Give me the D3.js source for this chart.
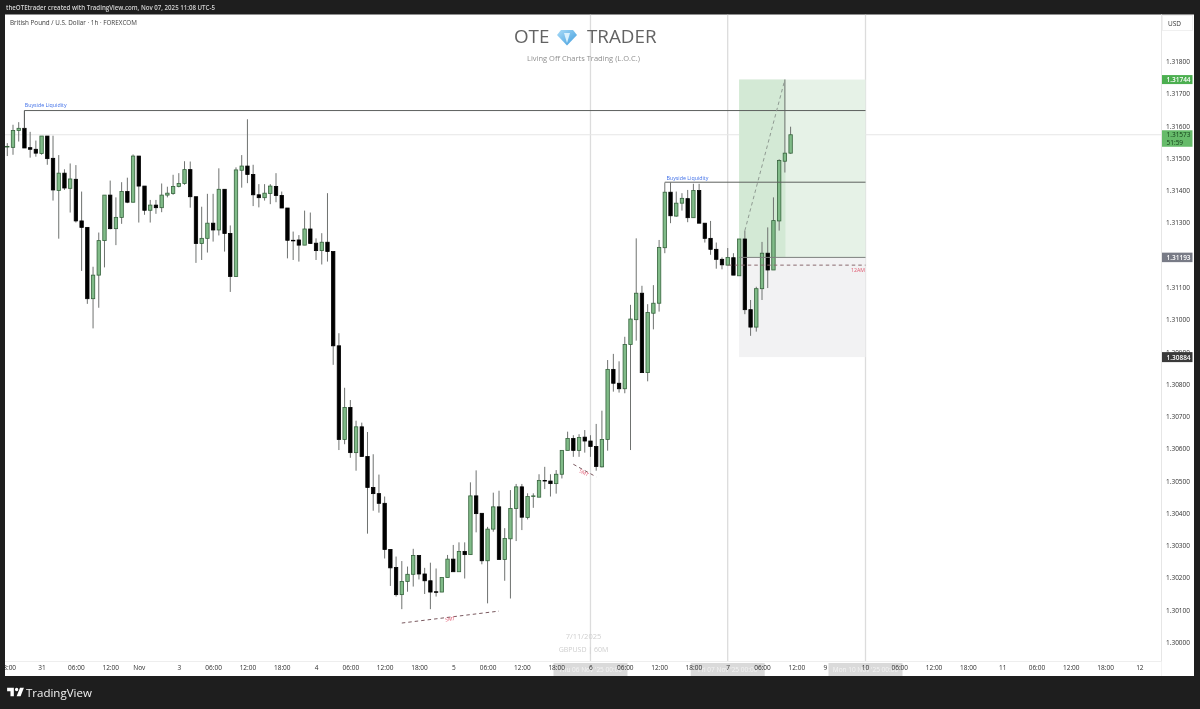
<!DOCTYPE html>
<html><head><meta charset="utf-8">
<script src="https://cdn.jsdelivr.net/npm/d3@7/dist/d3.min.js"></script>
<style>html,body{margin:0;padding:0;background:#1e1e1e;overflow:hidden}svg{display:block;filter:blur(.3px)}text{font-family:"Open Sans","Noto Sans",sans-serif}</style>
</head><body><div id="chart"></div>
<script>
const firstIndex=-1;
const openP=[1.31535,1.31534,1.31586,1.31593,1.31533,1.31528,1.31515,1.31569,1.31500,1.31400,1.31454,1.31407,1.31435,1.31306,1.31286,1.31065,1.31138,1.31245,1.31386,1.31282,1.31317,1.31397,1.31364,1.31507,1.31414,1.31339,1.31355,1.31347,1.31386,1.31391,1.31413,1.31422,1.31465,1.31381,1.31236,1.31252,1.31299,1.31278,1.31404,1.31267,1.31134,1.31463,1.31476,1.31450,1.31387,1.31378,1.31391,1.31413,1.31385,1.31346,1.31246,1.31247,1.31231,1.31281,1.31237,1.31214,1.31240,1.31211,1.30919,1.30629,1.30728,1.30588,1.30668,1.30576,1.30480,1.30461,1.30431,1.30288,1.30232,1.30148,1.30189,1.30211,1.30269,1.30212,1.30191,1.30157,1.30156,1.30201,1.30258,1.30219,1.30282,1.30272,1.30454,1.30400,1.30253,1.30351,1.30420,1.30257,1.30321,1.30415,1.30482,1.30387,1.30452,1.30450,1.30502,1.30500,1.30492,1.30521,1.30595,1.30632,1.30595,1.30636,1.30624,1.30607,1.30544,1.30629,1.30846,1.30803,1.30786,1.30923,1.31000,1.31082,1.30836,1.31020,1.31051,1.31223,1.31395,1.31321,1.31361,1.31375,1.31316,1.31400,1.31299,1.31252,1.31218,1.31187,1.31169,1.31192,1.31136,1.31250,1.31031,1.30977,1.31096,1.31206,1.31154,1.31306,1.31491,1.31516];
const highP=[1.31547,1.31604,1.31612,1.31648,1.31582,1.31555,1.31569,1.31569,1.31570,1.31510,1.31466,1.31484,1.31479,1.31397,1.31286,1.31164,1.31270,1.31386,1.31431,1.31379,1.31426,1.31440,1.31512,1.31507,1.31414,1.31371,1.31371,1.31422,1.31412,1.31449,1.31454,1.31491,1.31490,1.31381,1.31350,1.31390,1.31390,1.31469,1.31404,1.31292,1.31472,1.31510,1.31621,1.31480,1.31420,1.31420,1.31420,1.31454,1.31397,1.31346,1.31273,1.31262,1.31338,1.31332,1.31252,1.31268,1.31392,1.31211,1.30958,1.30789,1.30751,1.30687,1.30681,1.30652,1.30583,1.30520,1.30452,1.30288,1.30266,1.30252,1.30235,1.30290,1.30271,1.30231,1.30247,1.30229,1.30201,1.30271,1.30302,1.30310,1.30310,1.30496,1.30533,1.30400,1.30358,1.30464,1.30470,1.30354,1.30472,1.30491,1.30491,1.30462,1.30462,1.30521,1.30544,1.30521,1.30534,1.30595,1.30653,1.30642,1.30645,1.30658,1.30642,1.30677,1.30718,1.30875,1.30894,1.30871,1.30947,1.31046,1.31252,1.31105,1.31048,1.31107,1.31247,1.31425,1.31425,1.31397,1.31392,1.31402,1.31421,1.31421,1.31299,1.31306,1.31239,1.31193,1.31222,1.31206,1.31250,1.31276,1.31061,1.31102,1.31241,1.31286,1.31379,1.31497,1.31744,1.31598];
const lowP=[1.31507,1.31511,1.31552,1.31532,1.31502,1.31505,1.31511,1.31480,1.31369,1.31251,1.31402,1.31332,1.31301,1.31151,1.31049,1.30973,1.31037,1.31162,1.31280,1.31231,1.31297,1.31361,1.31363,1.31301,1.31325,1.31301,1.31328,1.31333,1.31379,1.31387,1.31410,1.31418,1.31347,1.31176,1.31185,1.31208,1.31242,1.31261,1.31211,1.31086,1.31134,1.31409,1.31423,1.31352,1.31348,1.31369,1.31358,1.31364,1.31346,1.31190,1.31185,1.31180,1.31231,1.31236,1.31185,1.31171,1.31180,1.30860,1.30596,1.30614,1.30572,1.30532,1.30575,1.30337,1.30408,1.30402,1.30260,1.30175,1.30142,1.30103,1.30157,1.30173,1.30195,1.30150,1.30103,1.30142,1.30156,1.30201,1.30219,1.30219,1.30198,1.30272,1.30341,1.30242,1.30121,1.30343,1.30257,1.30191,1.30136,1.30314,1.30348,1.30381,1.30417,1.30450,1.30475,1.30452,1.30461,1.30508,1.30595,1.30575,1.30575,1.30588,1.30575,1.30532,1.30542,1.30594,1.30777,1.30774,1.30772,1.30596,1.30935,1.30836,1.30809,1.30970,1.31025,1.31206,1.31299,1.31319,1.31338,1.31302,1.31316,1.31299,1.31239,1.31201,1.31158,1.31156,1.31169,1.31138,1.31136,1.31017,1.30950,1.30963,1.31061,1.31098,1.31154,1.31276,1.31456,1.31514];
const closeP=[1.31537,1.31586,1.31593,1.31532,1.31528,1.31516,1.31569,1.31499,1.31402,1.31454,1.31408,1.31436,1.31306,1.31286,1.31065,1.31138,1.31245,1.31386,1.31282,1.31317,1.31397,1.31364,1.31507,1.31414,1.31339,1.31355,1.31347,1.31386,1.31392,1.31413,1.31422,1.31465,1.31381,1.31236,1.31252,1.31299,1.31278,1.31404,1.31267,1.31134,1.31464,1.31476,1.31450,1.31387,1.31378,1.31392,1.31414,1.31385,1.31346,1.31246,1.31245,1.31231,1.31281,1.31236,1.31214,1.31240,1.31211,1.30919,1.30629,1.30728,1.30588,1.30668,1.30576,1.30480,1.30461,1.30431,1.30288,1.30231,1.30148,1.30189,1.30211,1.30269,1.30212,1.30191,1.30156,1.30156,1.30201,1.30258,1.30219,1.30282,1.30272,1.30454,1.30399,1.30253,1.30351,1.30420,1.30257,1.30322,1.30415,1.30482,1.30388,1.30452,1.30454,1.30502,1.30500,1.30492,1.30521,1.30595,1.30632,1.30595,1.30635,1.30624,1.30607,1.30545,1.30629,1.30846,1.30803,1.30786,1.30923,1.31002,1.31082,1.30836,1.31022,1.31051,1.31224,1.31395,1.31322,1.31361,1.31376,1.31316,1.31400,1.31299,1.31252,1.31218,1.31187,1.31170,1.31193,1.31138,1.31250,1.31031,1.30977,1.31096,1.31206,1.31154,1.31307,1.31493,1.31516,1.31573];

const priceTicks=[1.30,1.301,1.302,1.303,1.304,1.305,1.306,1.307,1.308,1.309,1.31,1.311,1.312,1.313,1.314,1.315,1.316,1.317,1.318];
const timeTickIndex=[-1,5,11,17,22,29,35,41,47,53,59,65,71,77,83,89,95,101,107,113,119,125,131,137,142,149,155,161,167,173,179,185,191,197];
const timeTickLabels=["18:00","31","06:00","12:00","Nov","3","06:00","12:00","18:00","4","06:00","12:00","18:00","5","06:00","12:00","18:00","6","06:00","12:00","18:00","7","06:00","12:00","9","10","06:00","12:00","18:00","11","06:00","12:00","18:00","12"];
const sessionIndex=[101,125,149.1];
const sessionLabels=["Thu 06 Nov '25   00:00","Fri 07 Nov '25   00:00","Mon 10 Nov '25   00:00"];
const target=1.31744, entry=1.31193, stop=1.30884, lastPrice=1.31573, timer="51:59";
const boxLeft=127, boxMid=135.1, boxRight=149.1;
const levelLines=[{a:2,b:149.1,p:1.31648,c:"#5d605e"},{a:114,b:149.1,p:1.31426,c:"#5d605e"},{a:127,b:149.1,p:1.31193,c:"#7d807e"}];
const liquidityLabels=[{i:2.05,p:1.31659,t:"Buyside Liquidity"},{i:114.3,p:1.31433,t:"Buyside Liquidity"}];
const dashLines=[{i0:68,p0:1.3006,i1:85,p1:1.30097,c:"#7a5a60"},{i0:98,p0:1.30552,i1:102,p1:1.30513,c:"#7a5a60"},{i0:125.1,p0:1.31169,i1:149.1,p1:1.31169,c:"#8a6a6e"},{i0:128,p0:1.31276,i1:135,p1:1.31744,c:"#8f9a92"}];
const smtLabels=[{i:76.5,p:1.30067,r:-8},{i:99.7,p:1.30521,r:28}];

const W=1200,H=709;
const L=5,R=1161.5,RR=1194,T=14.5,B=661.5,BB=676;
const x=d3.scaleLinear().domain([0,136]).range([13,790.6]);
const y=d3.scaleLinear().domain([1.30,1.318]).range([642.4,61.5]);
const svg=d3.select("#chart").append("svg").attr("width",W).attr("height",H);
svg.append("rect").attr("width",W).attr("height",H).attr("fill","#1e1e1e");
svg.append("rect").attr("x",L).attr("y",T).attr("width",RR-L).attr("height",BB-T).attr("fill","#fff");
const defs=svg.append("defs");
defs.append("clipPath").attr("id","plot").append("rect").attr("x",L).attr("y",T).attr("width",R-L).attr("height",B-T);
defs.append("clipPath").attr("id","timeclip").append("rect").attr("x",L).attr("y",B).attr("width",R-L).attr("height",BB-B);
const g=defs.append("linearGradient").attr("id","gem").attr("x1",0).attr("y1",0).attr("x2",1).attr("y2",1);
g.append("stop").attr("offset",0).attr("stop-color","#a9dcf8");g.append("stop").attr("offset",1).attr("stop-color","#3f9bdc");

// top bar text
svg.append("text").attr("x",6).attr("y",10).attr("font-size",6.15).attr("font-weight",600).attr("fill","#d4d4d4").text("theOTEtrader created with TradingView.com, Nov 07, 2025 11:08 UTC-5");
const plot=svg.append("g").attr("clip-path","url(#plot)");
// session lines
plot.selectAll(".sess").data(sessionIndex).join("line").attr("x1",d=>x(d)).attr("x2",d=>x(d)).attr("y1",T).attr("y2",B).attr("stroke","#dcdcdc").attr("stroke-width",1.3);
// last price line
plot.append("line").attr("x1",L).attr("x2",R).attr("y1",y(lastPrice)).attr("y2",y(lastPrice)).attr("stroke","#e6e6e6").attr("stroke-width",1);
// position boxes
plot.append("rect").attr("x",x(boxLeft)).attr("y",y(target)).attr("width",x(boxRight)-x(boxLeft)).attr("height",y(entry)-y(target)).attr("fill","#e6f2e7");
plot.append("rect").attr("x",x(boxLeft)).attr("y",y(target)).attr("width",x(boxMid)-x(boxLeft)).attr("height",y(entry)-y(target)).attr("fill","#d3e9d5");
plot.append("rect").attr("x",x(boxLeft)).attr("y",y(entry)).attr("width",x(boxRight)-x(boxLeft)).attr("height",y(stop)-y(entry)).attr("fill","#f2f2f3");
// watermark
const wm=svg.append("g");
wm.append("text").attr("x",514).attr("y",43).attr("font-size",18.8).attr("fill","#636363").attr("font-family","Lato").text("OTE");
wm.append("text").attr("x",587).attr("y",43).attr("font-size",18.8).attr("fill","#636363").attr("font-family","Lato").text("TRADER");
const gemPts=[[[557,35],[561,30],[573,30],[577,35],[567,45.5]]];
wm.selectAll(".gem").data(gemPts).join("polygon").attr("points",d=>d.join(" ")).attr("fill","url(#gem)");
wm.append("polygon").attr("points","564,33 570,33 567,43").attr("fill","#d9f1fd");
wm.append("text").attr("x",583.5).attr("y",61).attr("text-anchor","middle").attr("font-size",7.5).attr("fill","#8f8f8f").text("Living Off Charts Trading (L.O.C.)");
wm.append("text").attr("x",583.5).attr("y",639).attr("text-anchor","middle").attr("font-size",7.5).attr("fill","#cfcfcf").text("7/11/2025");
wm.append("text").attr("x",583.5).attr("y",652).attr("text-anchor","middle").attr("font-size",7).attr("fill","#cfcfcf").text("GBPUSD | 60M");
svg.append("text").attr("x",10).attr("y",24.5).attr("font-size",6.3).attr("fill","#3c3c3c").text("British Pound / U.S. Dollar · 1h · FOREXCOM");
// candles
const candles=openP.map((o,k)=>({i:k+firstIndex,o,h:highP[k],l:lowP[k],c:closeP[k]}));
const cg=plot.selectAll(".c").data(candles).join("g");
cg.append("line").attr("x1",d=>x(d.i)).attr("x2",d=>x(d.i)).attr("y1",d=>y(d.h)).attr("y2",d=>y(d.l)).attr("stroke","#6f7270").attr("stroke-width",1);
cg.append("rect").attr("x",d=>x(d.i)-1.7).attr("width",3.4)
 .attr("y",d=>y(Math.max(d.o,d.c))).attr("height",d=>Math.max(0.6,Math.abs(y(d.o)-y(d.c))))
 .attr("fill",d=>d.c>=d.o?"#80bb88":"#000").attr("stroke",d=>d.c>=d.o?"#35633c":"#000").attr("stroke-width",.8);
// levels
plot.selectAll(".lvl").data(levelLines).join("line").attr("x1",d=>x(d.a)).attr("x2",d=>x(d.b)).attr("y1",d=>y(d.p)).attr("y2",d=>y(d.p)).attr("stroke",d=>d.c).attr("stroke-width",1);
plot.append("line").attr("x1",x(2)).attr("x2",x(2)).attr("y1",y(1.31648)).attr("y2",y(1.31593)).attr("stroke","#5d605e");
plot.selectAll(".dash").data(dashLines).join("line").attr("x1",d=>x(d.i0)).attr("y1",d=>y(d.p0)).attr("x2",d=>x(d.i1)).attr("y2",d=>y(d.p1)).attr("stroke",d=>d.c).attr("stroke-width",1).attr("stroke-dasharray","3.5 3");
plot.selectAll(".liq").data(liquidityLabels).join("text").attr("x",d=>x(d.i)).attr("y",d=>y(d.p)).attr("font-size",5.3).attr("fill","#3f6fe8").text(d=>d.t);
plot.selectAll(".smt").data(smtLabels).join("text").attr("text-anchor","middle").attr("font-size",5).attr("fill","#e0576f")
 .attr("transform",d=>`translate(${x(d.i)},${y(d.p)}) rotate(${d.r})`).text("SMT");
plot.append("text").attr("x",x(149)).attr("y",y(1.31169)+7).attr("text-anchor","end").attr("font-size",5.2).attr("fill","#e0576f").text("12AM");
// axis panels
svg.append("line").attr("x1",R).attr("x2",R).attr("y1",T).attr("y2",BB).attr("stroke","#e6e6e6");
svg.append("rect").attr("x",L).attr("y",B).attr("width",R-L).attr("height",BB-B).attr("fill","#fff");
svg.append("line").attr("x1",L).attr("x2",R).attr("y1",B).attr("y2",B).attr("stroke","#eeeeee");
// session date labels
const tg=svg.append("g").attr("clip-path","url(#timeclip)");
tg.selectAll(".sr").data(sessionIndex).join("rect").attr("x",d=>x(d)-37).attr("y",B+1.5).attr("width",74).attr("height",13).attr("fill","#dadada");
tg.selectAll(".st").data(sessionIndex).join("text").attr("x",d=>x(d)).attr("y",B+10).attr("text-anchor","middle").attr("font-size",6.5).attr("fill","#f3f3f3").text((d,k)=>sessionLabels[k]);
const tAxis=d3.axisBottom(x).tickValues(timeTickIndex).tickFormat((d,k)=>timeTickLabels[k]).tickSize(0).tickPadding(4);
tg.append("g").attr("transform",`translate(0,${B})`).call(tAxis).call(s=>s.select(".domain").remove())
 .selectAll("text").attr("font-size",6.5).attr("fill","#2e2e2e").attr("font-family","Open Sans");
// price axis
const pAxis=d3.axisRight(y).tickValues(priceTicks).tickFormat(d3.format(".5f")).tickSize(0).tickPadding(4.5);
svg.append("g").attr("transform",`translate(${R},0)`).call(pAxis).call(s=>s.select(".domain").remove())
 .selectAll("text").attr("font-size",6.5).attr("fill","#333").attr("font-family","Open Sans");
svg.append("rect").attr("x",R+1).attr("y",15.5).attr("width",30).attr("height",15).attr("fill","#fff").attr("stroke","#f0f0f0");
svg.append("text").attr("x",1168).attr("y",26).attr("font-size",6.5).attr("fill","#333").text("USD");
// price tags
const tags=[{p:target,fill:"#4caf50",h:9,t:"1.31744",c:"#fff"},{p:entry,fill:"#787b86",h:9.5,t:"1.31193",c:"#fff"},{p:stop,fill:"#3a3a3a",h:10,t:"1.30884",c:"#fff"}];
const tagG=svg.selectAll(".tag").data(tags).join("g");
tagG.append("rect").attr("x",R+0.5).attr("y",d=>y(d.p)-d.h/2).attr("width",30.5).attr("height",d=>d.h).attr("fill",d=>d.fill);
tagG.append("text").attr("x",R+5).attr("y",d=>y(d.p)+2.4).attr("font-size",6.5).attr("font-weight",600).attr("fill",d=>d.c).text(d=>d.t);
svg.append("rect").attr("x",R+0.5).attr("y",y(lastPrice)-4.5).attr("width",30.5).attr("height",16.5).attr("fill","#66bb6a");
svg.append("text").attr("x",R+5).attr("y",y(lastPrice)+2.2).attr("font-size",6.5).attr("fill","#14401a").text(d3.format(".5f")(lastPrice));
svg.append("text").attr("x",R+5).attr("y",y(lastPrice)+10).attr("font-size",6.5).attr("fill","#14401a").text(timer);
// logo
svg.append("path").attr("transform","translate(6,684.5) scale(.56)").attr("d","M14 6H2v6h6v9h6V6zm12 15h-7l6-15h7l-6 15zm-7-9a3 3 0 1 0 0-6 3 3 0 0 0 0 6z").attr("fill","#fff");
svg.append("text").attr("x",26).attr("y",697).attr("font-size",11.5).attr("font-weight",500).attr("fill","#f2f2f2").attr("font-family","Inter").text("TradingView");
</script></body></html>
